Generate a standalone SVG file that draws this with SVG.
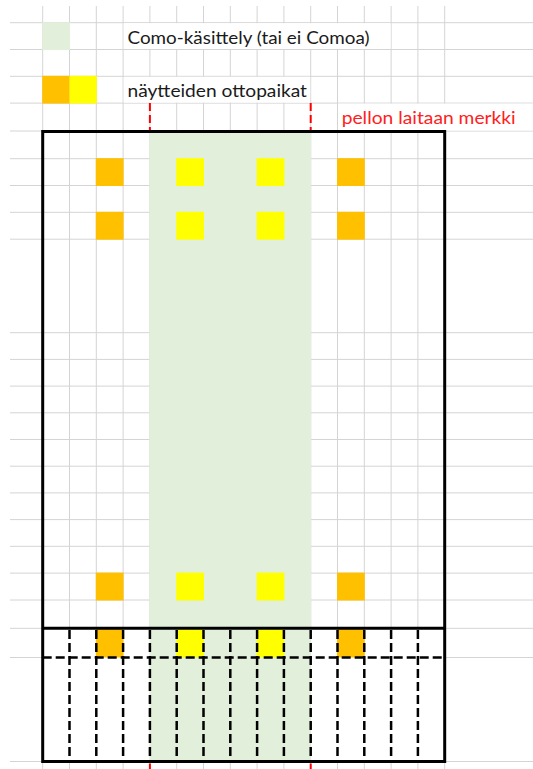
<svg xmlns="http://www.w3.org/2000/svg" width="533" height="769" viewBox="0 0 533 769">
  <style>
    .grid { stroke: #D4D4D4; stroke-width: 1; fill: none; }
    .mask { fill: #FFFFFF; }
    .como { fill: #E2EFDA; }
    .org { fill: #FFC000; }
    .yel { fill: #FFFF00; }
    .border { stroke: #000000; stroke-width: 3; fill: none; }
    .dash { stroke: #000000; stroke-width: 2.5; fill: none; stroke-dasharray: 9 4; }
    .red { stroke: #FF0000; stroke-width: 2; fill: none; stroke-dasharray: 8 4; }
    .lbl { font-family: Lato, "Open Sans", sans-serif; font-size: 17.5px; fill: #1A1A1A; }
    .redlbl { font-family: Lato, "Open Sans", sans-serif; font-size: 17.5px; fill: #FF2020; }
  </style>
  <rect x="0" y="0" width="533" height="769" fill="#FFFFFF"/>

  <g id="gridlines" class="grid">
    <path d="M42.7 6V769 M69.5 6V769 M96.3 6V769 M123.1 6V769 M149.9 6V769 M176.7 6V769 M203.5 6V769 M230.3 6V769 M257.1 6V769 M283.9 6V769 M310.7 6V769 M337.5 6V769 M364.3 6V769 M391.1 6V769 M417.9 6V769 M444.7 6V769"/>
    <path d="M10 22.7H533 M10 49.5H533 M10 76.3H533 M10 103.1H533 M10 131H533 M10 158.7H533 M10 185.5H533 M10 212.3H533 M10 239.2H533 M10 332.7H533 M10 359.4H533 M10 386.1H533 M10 412.8H533 M10 439.5H533 M10 466.2H533 M10 492.9H533 M10 519.6H533 M10 546.3H533 M10 573.1H533 M10 600H533 M10 628.3H533 M10 657.5H533 M10 761.5H533"/>
  </g>

  <g id="text-overflow-masks" class="mask">
    <rect x="123.7" y="23.2" width="266.9" height="25.8"/>
    <rect x="123.7" y="76.8" width="186.5" height="25.8"/>
    <rect x="338" y="103.6" width="195" height="26.9"/>
    <rect x="44.2" y="629.8" width="399" height="130.2"/>
  </g>

  <g id="legend">
    <g id="legend-como">
      <rect class="como" x="42.2" y="22.2" width="27.8" height="27.8"/>
      <text class="lbl" x="127.5" y="43.8" textLength="242" lengthAdjust="spacingAndGlyphs">Como-käsittely (tai ei Comoa)</text>
    </g>
    <g id="legend-samples">
      <rect class="org" x="42.2" y="75.8" width="27.6" height="27.8"/>
      <rect class="yel" x="69.5" y="75.8" width="27.3" height="27.8"/>
      <text class="lbl" x="127.5" y="97.3" textLength="179.5" lengthAdjust="spacingAndGlyphs">näytteiden ottopaikat</text>
    </g>
    <g id="legend-marker">
      <text class="redlbl" x="341.7" y="124" textLength="174" lengthAdjust="spacingAndGlyphs">pellon laitaan merkki</text>
    </g>
  </g>

  <g id="field">
    <rect id="como-strip" class="como" x="149.4" y="131.5" width="161.8" height="630"/>
    <g id="sample-points">
      <rect class="org" x="95.8" y="158.2" width="27.8" height="27.8"/>
      <rect class="yel" x="176.2" y="158.2" width="27.8" height="27.8"/>
      <rect class="yel" x="256.6" y="158.2" width="27.8" height="27.8"/>
      <rect class="org" x="337" y="158.2" width="27.8" height="27.8"/>

      <rect class="org" x="95.8" y="211.8" width="27.8" height="27.9"/>
      <rect class="yel" x="176.2" y="211.8" width="27.8" height="27.9"/>
      <rect class="yel" x="256.6" y="211.8" width="27.8" height="27.9"/>
      <rect class="org" x="337" y="211.8" width="27.8" height="27.9"/>

      <rect class="org" x="95.8" y="572.6" width="27.8" height="27.9"/>
      <rect class="yel" x="176.2" y="572.6" width="27.8" height="27.9"/>
      <rect class="yel" x="256.6" y="572.6" width="27.8" height="27.9"/>
      <rect class="org" x="337" y="572.6" width="27.8" height="27.9"/>

      <rect class="org" x="95.8" y="628.3" width="27.8" height="29.2"/>
      <rect class="yel" x="176.2" y="628.3" width="27.8" height="29.2"/>
      <rect class="yel" x="256.6" y="628.3" width="27.8" height="29.2"/>
      <rect class="org" x="337" y="628.3" width="27.8" height="29.2"/>
    </g>
  </g>

  <g id="connectors">
    <g id="dashed-strips" class="dash">
      <path d="M42.7 657.5H444.7"/>
      <path d="M69.5 630V760 M96.3 630V760 M123.1 630V760 M149.9 630V760 M176.7 630V760 M203.5 630V760 M230.3 630V760 M257.1 630V760 M283.9 630V760 M310.7 630V760 M337.5 630V760 M364.3 630V760 M391.1 630V760 M417.9 630V760"/>
    </g>
    <g id="field-border" class="border">
      <rect x="42.7" y="131.5" width="402" height="630"/>
      <path d="M42.7 628.3H444.7"/>
    </g>
    <g id="edge-markers" class="red">
      <path d="M149.9 103.1V130 M310.7 103.1V130"/>
      <path d="M149.9 763.5V769 M310.7 763.5V769" stroke-dasharray="none"/>
    </g>
  </g>
</svg>
